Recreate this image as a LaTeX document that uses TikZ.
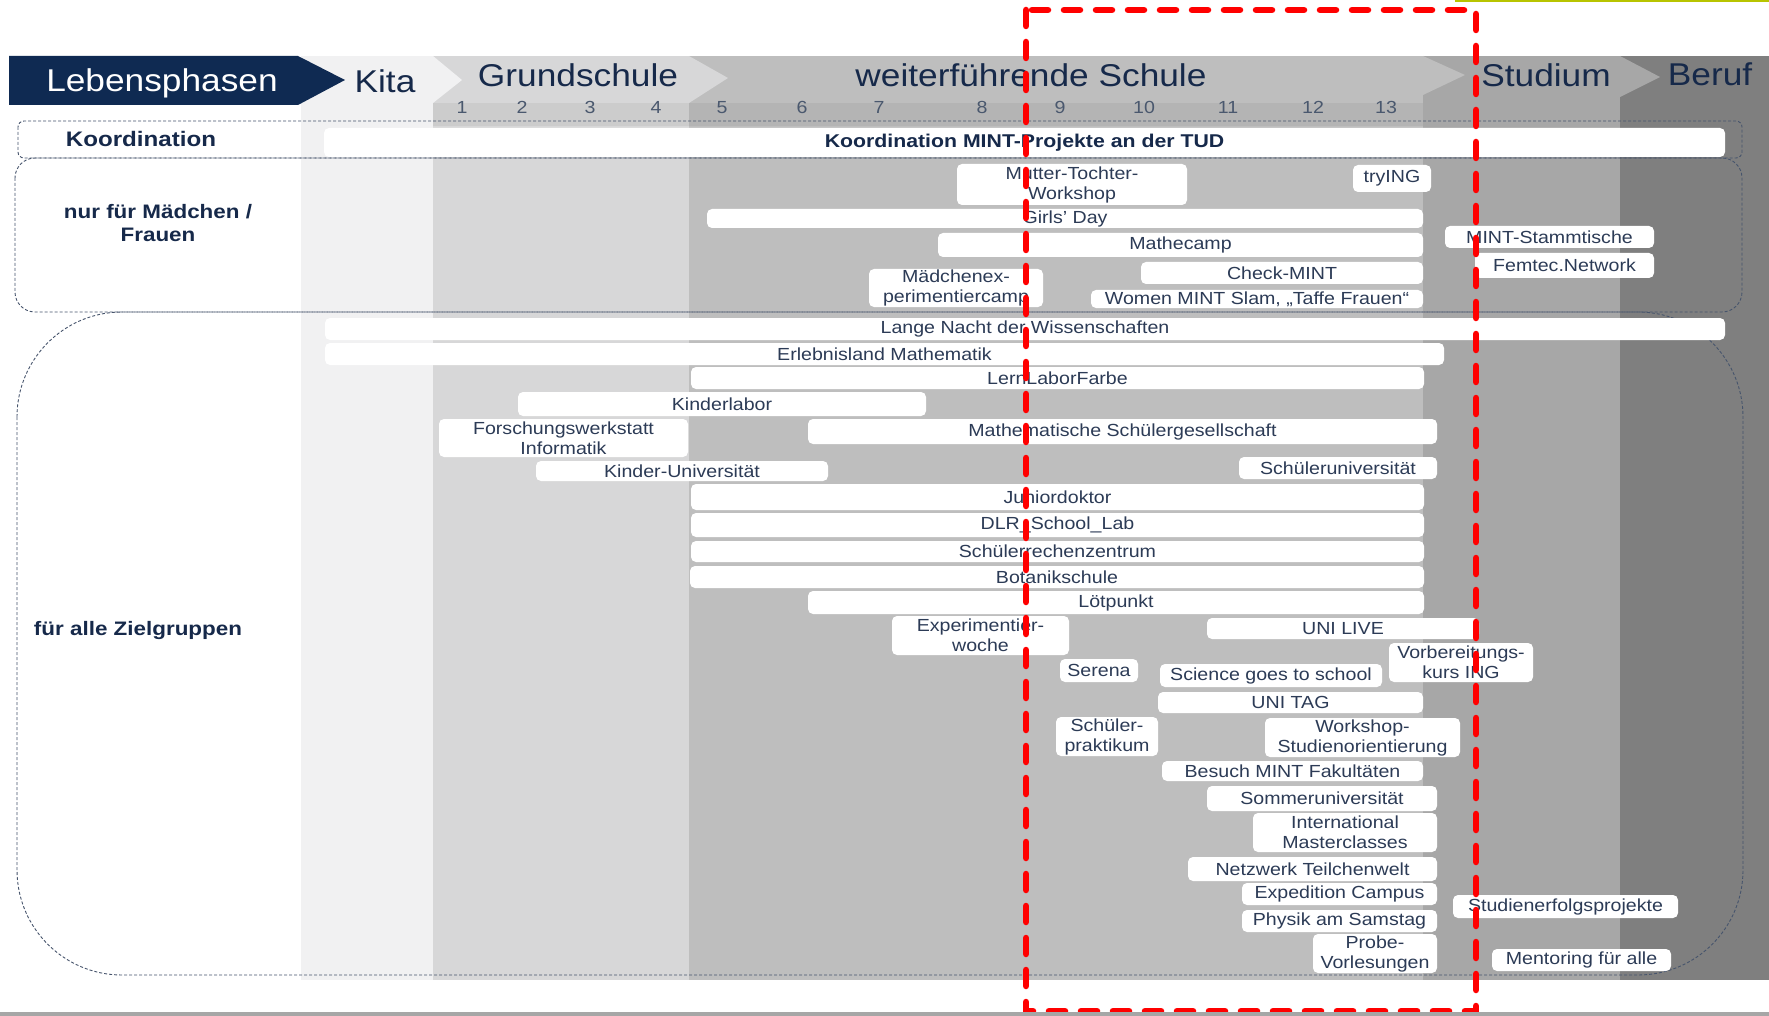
\documentclass[tikz,border=0pt]{standalone}
\usepackage{fontspec}
\setmainfont{Liberation Sans}
\newfontfamily\kopffont[FakeStretch=1.12]{Liberation Sans}
\newfontfamily\balkenfont[FakeStretch=1.12]{Liberation Sans}
\newfontfamily\gruppenfont[FakeStretch=1.15]{Liberation Sans}

\definecolor{tudblau}{HTML}{0F2A52}
\definecolor{textblau}{HTML}{16294A}
\definecolor{balkentext}{HTML}{2C3B56}
\definecolor{zifferngrau}{HTML}{4A586E}
\definecolor{kitagrau}{HTML}{F1F1F2}
\definecolor{grundgrau}{HTML}{D7D7D8}
\definecolor{schulgrau}{HTML}{BEBEBE}
\definecolor{studgrau}{HTML}{A7A7A7}
\definecolor{berufgrau}{HTML}{7F7F7F}
\definecolor{rahmengrau}{HTML}{46546C}
\definecolor{gelbgruen}{HTML}{B8C400}

\tikzset{
  balken/.style={fill=white, rounded corners=5pt, inner sep=0pt, align=center,
    text=balkentext, font=\balkenfont\fontsize{17.5}{20}\selectfont},
  von bis/.style n args={4}{minimum width=#3-#1, minimum height=#4-#2,
    at={({(#1+#3)/2},{(#2+#4)/2})}},
  kopf/.style={anchor=base, text=textblau, font=\kopffont\fontsize{31.5}{36}\selectfont},
  ziffer/.style={anchor=base, text=zifferngrau, font=\kopffont\fontsize{17.5}{20}\selectfont},
  gruppe/.style={align=center, text=textblau,
    font=\gruppenfont\bfseries\fontsize{19.5}{23}\selectfont},
  rahmen/.style={draw=rahmengrau, line width=0.9pt, dash pattern=on 3pt off 2pt},
}

\begin{document}
\begin{tikzpicture}[x=1pt, y=-1pt]
  \useasboundingbox (0,0) rectangle (1769,1016);
  \fill[white] (0,0) rectangle (1769,1016);
  % die Spalten der Lebensphasen
  \fill[kitagrau] (301,56) rectangle (433,980);
  \fill[grundgrau] (433,56) rectangle (689,980);
  \fill[schulgrau] (689,56) rectangle (1423,980);
  \fill[studgrau] (1423,56) rectangle (1620,980);
  \fill[berufgrau] (1620,56) rectangle (1769,980);
  \fill[black, opacity=0.05] (433,103) rectangle (1423,126); % Klassenzeile
  % Pfeilspitzen im Kopf
  \fill[kitagrau] (433,56) -- (462,80) -- (433,103) -- cycle;
  \fill[grundgrau] (689,56) -- (728,78) -- (689,103) -- cycle;
  \fill[schulgrau] (1423,56) -- (1465,75) -- (1423,95) -- cycle;
  \fill[studgrau] (1620,56) -- (1660,77) -- (1620,97) -- cycle;
  \fill[tudblau] (9,56) -- (298,56) -- (345,80) -- (298,105) -- (9,105) -- cycle;
  % Kopfzeile
  \node[kopf, text=white] (leben) at (162,92) {Lebensphasen};
  \node[kopf] (kita) at (385,93) {Kita};
  \node[kopf] (grund) at (578,87) {Grundschule};
  \node[kopf] (weiter) at (1031,87) {weiterführende Schule};
  \node[kopf] (studium) at (1546,87) {Studium};
  \node[kopf] (beruf) at (1710,86) {Beruf};
  % Klassenstufen
  \foreach \k/\x in {1/462, 2/522, 3/590, 4/656, 5/722, 6/802, 7/879,
                     8/982, 9/1060, 10/1144, 11/1228, 12/1313, 13/1386}
    \node[ziffer] (klasse\k) at (\x,114) {\k};
  % Rahmen der Zielgruppen
  \draw[rahmen, rounded corners=6pt] (18,121) rectangle (1742,158);
  \draw[rahmen, rounded corners=20pt] (15,158) rectangle (1742,312);
  \draw[rahmen, rounded corners=105pt] (17,312) rectangle (1743,975);
  \node[gruppe, font=\gruppenfont\bfseries\fontsize{21}{24}\selectfont] (koordination) at (141,139) {Koordination};
  \node[gruppe] (maedchen) at (158,223) {nur für Mädchen /\\Frauen};
  \node[gruppe] (alle) at (138,630) {für alle Zielgruppen};
  % Koordination
  \node[balken, von bis={324}{128}{1725}{157}, text=textblau,
    font=\gruppenfont\bfseries\fontsize{18.5}{22}\selectfont] (koordmint) {Koordination MINT-Projekte an der TUD};
  % nur für Mädchen / Frauen
  \foreach \name/\xa/\ya/\xb/\yb/\txt in {
      mutter/957/164/1187/205/{Mutter-Tochter-\\Workshop},
      trying/1353/165/1431/192/{tryING},
      girls/707/209/1423/228/{Girls’ Day},
      mathecamp/938/233/1423/257/{Mathecamp},
      stammtisch/1445/226/1654/248/{MINT-Stammtische},
      femtec/1475/253/1654/278/{Femtec.Network},
      check/1141/262/1423/284/{Check-MINT},
      camp/869/269/1043/307/{Mädchenex-\\perimentiercamp},
      slam/1091/290/1423/308/{Women MINT Slam, „Taffe Frauen“}}
    \node[balken, von bis={\xa}{\ya}{\xb}{\yb}] (\name) {\txt};
  % für alle Zielgruppen
  \foreach \name/\xa/\ya/\xb/\yb/\txt in {
      langenacht/325/318/1725/340/{Lange Nacht der Wissenschaften},
      erlebnis/325/343/1444/365/{Erlebnisland Mathematik},
      lernlabor/691/367/1424/389/{LernLaborFarbe},
      kinderlabor/518/392/926/416/{Kinderlabor},
      forschung/439/419/688/457/{Forschungswerkstatt\\Informatik},
      mathges/808/419/1437/444/{Mathematische Schülergesellschaft},
      kinderuni/536/461/828/481/{Kinder-Universität},
      schueleruni/1239/457/1437/479/{Schüleruniversität},
      junior/691/484/1424/510/{Juniordoktor},
      dlr/691/513/1424/537/{DLR\_School\_Lab},
      rechen/691/541/1424/562/{Schülerrechenzentrum},
      botanik/690/566/1424/588/{Botanikschule},
      loetpunkt/808/591/1424/614/{Lötpunkt},
      experiment/892/616/1069/655/{Experimentier-\\woche},
      unilive/1207/618/1479/639/{UNI LIVE},
      vorkurs/1389/643/1533/682/{Vorbereitungs-\\kurs ING},
      serena/1060/659/1138/682/{Serena},
      science/1160/664/1382/687/{Science goes to school},
      unitag/1158/692/1423/713/{UNI TAG},
      praktikum/1056/717/1158/756/{Schüler-\\praktikum},
      orient/1265/718/1460/757/{Workshop-\\Studienorientierung},
      besuch/1162/761/1423/781/{Besuch MINT Fakultäten},
      sommeruni/1207/786/1437/811/{Sommeruniversität},
      master/1253/813/1437/852/{International\\Masterclasses},
      netzwerk/1188/857/1437/881/{Netzwerk Teilchenwelt},
      expedition/1242/883/1437/905/{Expedition Campus},
      physik/1242/910/1437/932/{Physik am Samstag},
      probe/1313/934/1437/973/{Probe-\\Vorlesungen},
      erfolg/1453/895/1678/918/{Studienerfolgsprojekte},
      mentoring/1492/949/1671/971/{Mentoring für alle}}
    \node[balken, von bis={\xa}{\ya}{\xb}{\yb}] (\name) {\txt};
  % Markierung Klasse 9 bis Studium
  \draw[red, line width=6.5pt, line cap=round, dash pattern=on 16pt off 16pt]
    (1026,10) rectangle (1476,1011);
  \fill[gelbgruen] (1455,0) rectangle (1769,2.5);
  \fill[black!35] (0,1012) rectangle (1769,1016);
\end{tikzpicture}
\end{document}
